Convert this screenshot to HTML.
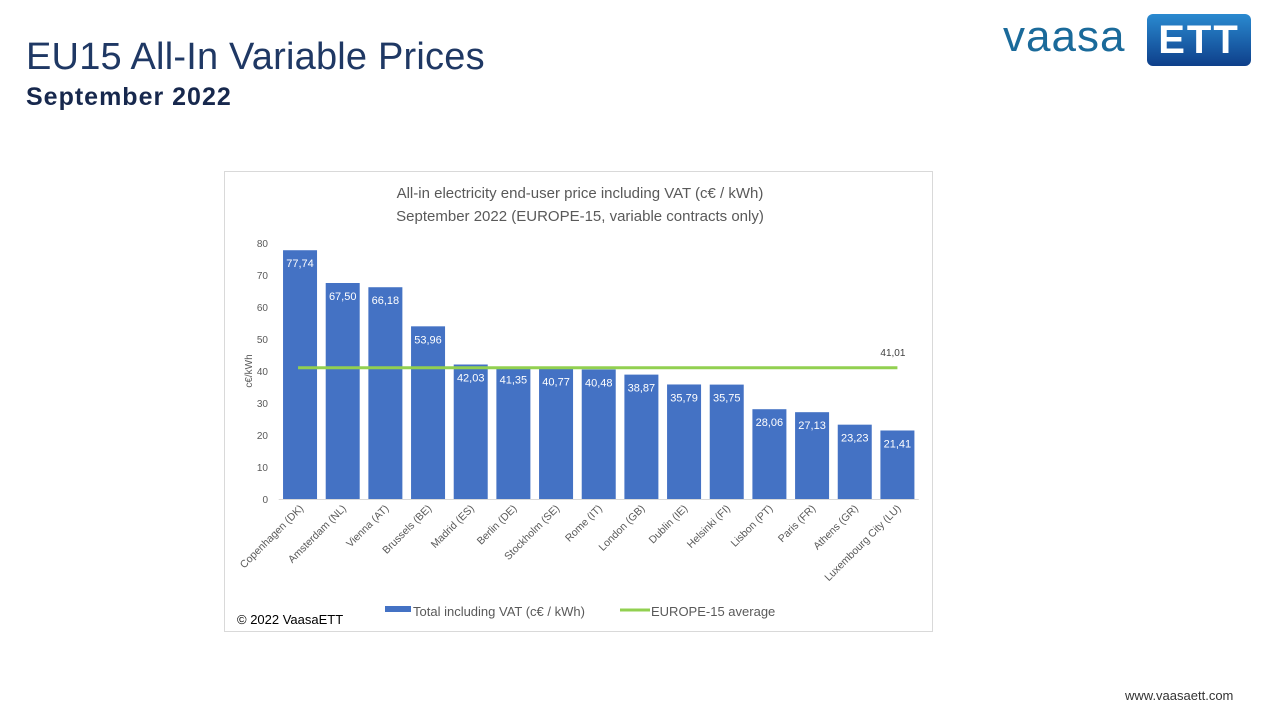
<!DOCTYPE html>
<html><head><meta charset="utf-8"><style>
body{margin:0;width:1269px;height:708px;background:#fff;position:relative;overflow:hidden;font-family:"Liberation Sans",sans-serif}
.t{position:absolute;left:26px;top:36px;font-size:38px;color:#1f3864;letter-spacing:0.2px}
.s{position:absolute;left:26px;top:83px;font-size:25px;font-weight:bold;color:#17284d;letter-spacing:1px}
.url{position:absolute;left:1125px;top:688px;font-size:13px;color:#333}
</style></head><body>
<div class="t">EU15 All-In Variable Prices</div>
<div class="s">September 2022</div>
<div style="position:absolute;left:1003px;top:14px;width:250px;height:54px">
 <span style="position:absolute;left:0;top:-2px;font-size:44px;color:#1a6a9a;letter-spacing:1px">vaasa</span>
 <div style="position:absolute;left:144px;top:0;width:104px;height:52px;border-radius:6px;background:linear-gradient(#2a8ad0,#0e3f8a);color:#fff;font-weight:bold;font-size:40px;text-align:center;line-height:52px;letter-spacing:2px">ETT</div>
</div>
<div class="url">www.vaasaett.com</div>
<svg width="1269" height="708" style="position:absolute;left:0;top:0" id="chart">
<rect x="224.5" y="171.5" width="708" height="460" fill="#fff" stroke="#d9d9d9"/>
<text x="580" y="198" text-anchor="middle" font-size="15" fill="#595959">All-in electricity end-user price including VAT (c€ / kWh)</text>
<text x="580" y="221" text-anchor="middle" font-size="15" fill="#595959">September 2022 (EUROPE-15, variable contracts only)</text>
<text transform="translate(252,371) rotate(-90)" text-anchor="middle" font-size="10" fill="#595959">c€/kWh</text>
<g id="g"></g>
<text x="237" y="624" font-size="13" fill="#000">© 2022 VaasaETT</text>
<rect x="385" y="606" width="26" height="6" fill="#4472c4"/>
<text x="413" y="616" font-size="13" fill="#595959">Total including VAT (c€ / kWh)</text>
<line x1="620" y1="610" x2="650" y2="610" stroke="#92d050" stroke-width="3"/>
<text x="651" y="616" font-size="13" fill="#595959">EUROPE-15 average</text>
</svg>
<script>
const categories=["Copenhagen (DK)","Amsterdam (NL)","Vienna (AT)","Brussels (BE)","Madrid (ES)","Berlin (DE)","Stockholm (SE)","Rome (IT)","London (GB)","Dublin (IE)","Helsinki (FI)","Lisbon (PT)","Paris (FR)","Athens (GR)","Luxembourg City (LU)"];
const values=[77.74,67.50,66.18,53.96,42.03,41.35,40.77,40.48,38.87,35.79,35.75,28.06,27.13,23.23,21.41];
const average=[41.01];
const yTicks=[0,10,20,30,40,50,60,70,80];
const NS="http://www.w3.org/2000/svg",g=document.getElementById('g');
const x0=278.7,cw=42.67,bw=34,yb=499,ppu=3.2;
const y=v=>yb-v*ppu, xc=i=>x0+cw*(i+0.5);
function el(t,a,txt){const e=document.createElementNS(NS,t);for(const k in a)e.setAttribute(k,a[k]);if(txt!==undefined)e.textContent=txt;g.appendChild(e);return e;}
yTicks.forEach(v=>{const e=el('text',{x:268,y:y(v)+4,'text-anchor':'end','font-size':10,fill:'#595959'},v);

});
values.forEach((v,i)=>{
const r=el('rect',{x:xc(i)-bw/2,y:y(v),width:bw,height:v*ppu,fill:'#4472c4'});


const t=el('text',{x:xc(i),y:y(v)+17,'text-anchor':'middle','font-size':11,fill:'#fff'},v.toFixed(2).replace('.',','));


const c=el('text',{transform:`translate(${xc(i)+4},${yb+10}) rotate(-45)`,'text-anchor':'end','font-size':10.5,fill:'#595959'},categories[i]);


});
const ax=el('line',{x1:x0,x2:x0+cw*15,y1:yb+0.5,y2:yb+0.5,stroke:'#d9d9d9'});


const av=el('line',{x1:xc(0)-2,x2:xc(14)-0,y1:y(average[0]),y2:y(average[0]),stroke:'#92d050','stroke-width':3});


const al=el('text',{x:xc(14)-17,y:y(average[0])-12,'font-size':10,fill:'#404040'},average[0].toFixed(2).replace('.',','));


</script>
</body></html>
